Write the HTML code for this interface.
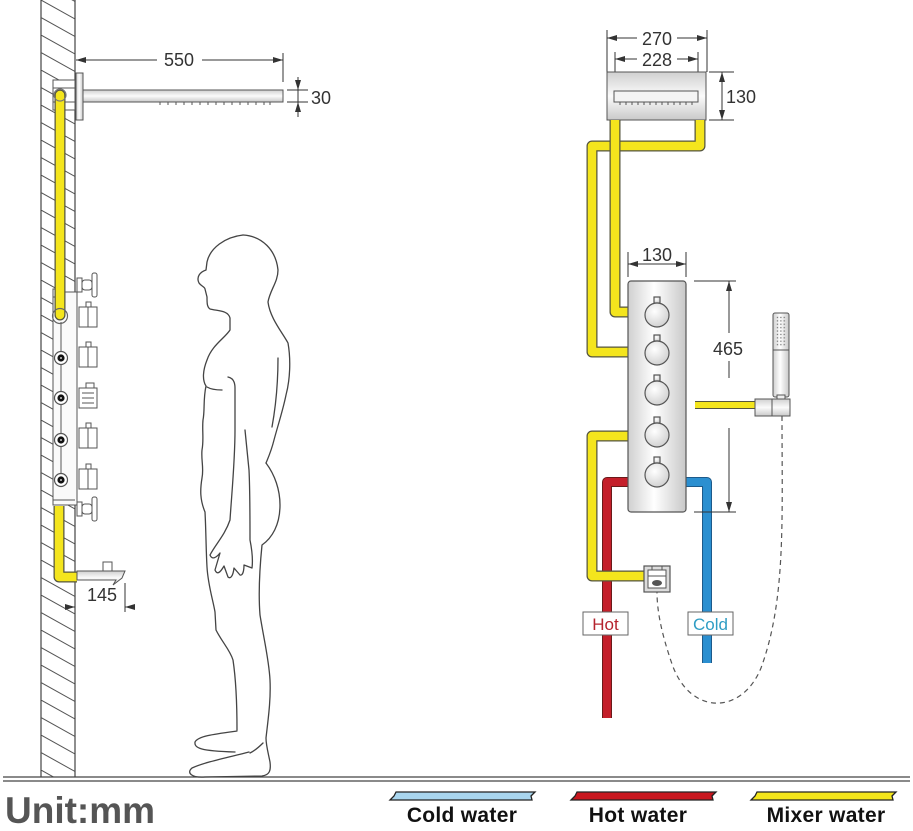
<!DOCTYPE html>
<html><head><meta charset="utf-8"><style>
html,body{margin:0;padding:0;background:#fff;}
svg{display:block;}
text{font-family:"Liberation Sans",Arial,sans-serif;}
.d{stroke:#333;stroke-width:1;fill:none;}
.po{stroke:#55553f;stroke-width:11;fill:none;stroke-linejoin:round;}
.pi{stroke:#f4e51d;stroke-width:8.5;fill:none;stroke-linejoin:round;}
.h{stroke:#444;stroke-width:1.3;fill:none;stroke-linecap:round;stroke-linejoin:round;}
.g{stroke:#555;stroke-width:1;}
</style></head><body>
<svg width="913" height="831" viewBox="0 0 913 831" xmlns="http://www.w3.org/2000/svg">
<defs>
<marker id="a" markerUnits="userSpaceOnUse" markerWidth="10" markerHeight="6" refX="10" refY="3" orient="auto-start-reverse"><path d="M0,0 L10,3 L0,6 z" fill="#333"/></marker>
<pattern id="hat" patternUnits="userSpaceOnUse" x="41" y="0" width="34" height="17.5"><path d="M0,0 L34,19 M0,-17.5 L34,1.5" stroke="#555" stroke-width="1" fill="none"/></pattern>
<linearGradient id="gh" x1="0" y1="0" x2="1" y2="0"><stop offset="0" stop-color="#cfcfcf"/><stop offset="0.45" stop-color="#ffffff"/><stop offset="1" stop-color="#c8c8c8"/></linearGradient>
<linearGradient id="gv" x1="0" y1="0" x2="0" y2="1"><stop offset="0" stop-color="#d0d0d0"/><stop offset="0.5" stop-color="#fbfbfb"/><stop offset="1" stop-color="#c9c9c9"/></linearGradient>
<radialGradient id="gk" cx="0.4" cy="0.35" r="0.7"><stop offset="0" stop-color="#ffffff"/><stop offset="1" stop-color="#cfcfcf"/></radialGradient>
<pattern id="dots" patternUnits="userSpaceOnUse" x="776" y="316" width="3.4" height="3.4"><rect x="0.8" y="0.8" width="1.3" height="1.3" fill="#777"/></pattern>
</defs>
<rect width="913" height="831" fill="#fff"/>

<!-- wall -->
<rect x="41" y="0" width="34" height="777" fill="url(#hat)"/>
<path d="M41,0 V777 M75,0 V777" stroke="#444" stroke-width="1.2"/>
<!-- ground -->
<path d="M3,777 H910 M3,781 H910" stroke="#444" stroke-width="1.2"/>

<!-- left shower arm -->
<rect x="53" y="80" width="22" height="30" fill="#fff" class="g"/>
<path d="M53,88 H75 M53,102 H75" class="g"/>
<rect x="76" y="73" width="7" height="47" fill="url(#gh)" class="g"/>
<rect x="83" y="90" width="200" height="12" fill="url(#gv)" class="g"/>
<path d="M160,102 v3 M168,102 v3 M176,102 v3 M184,102 v3 M192,102 v3 M200,102 v3 M208,102 v3 M216,102 v3 M224,102 v3 M232,102 v3 M240,102 v3 M248,102 v3 M256,102 v3 M264,102 v3 M270,102 v3" stroke="#555" stroke-width="1"/>
<!-- 550 dim -->
<path class="d" d="M157,60 H76" marker-end="url(#a)"/>
<path class="d" d="M202,60 H283" marker-end="url(#a)"/>
<path class="d" d="M283,53 V82"/>
<text x="179" y="66" font-size="18" fill="#333" text-anchor="middle">550</text>
<!-- 30 dim -->
<path class="d" d="M287,90 H308 M287,102 H308 M298,90 V102"/>
<path class="d" d="M298,77 V90" marker-end="url(#a)"/>
<path class="d" d="M298,117 V102" marker-end="url(#a)"/>
<text x="311" y="104" font-size="18" fill="#333">30</text>

<!-- left panel -->
<rect x="53" y="292" width="24" height="213" fill="#fafafa" class="g"/>
<path d="M53,500 H75 M61,322 V480" class="g"/>
<rect x="53" y="289" width="12" height="8" fill="#fff" class="g"/>

<!-- left yellow pipe top -->
<path class="po" d="M60,95 V315" stroke-linecap="round"/>
<path class="pi" d="M60,95 V315" stroke-linecap="round"/>
<circle cx="60" cy="95" r="6" fill="none" stroke="#777" stroke-width="1.2"/>
<circle cx="60" cy="316" r="7.5" fill="none" stroke="#666" stroke-width="1.2"/>

<g fill="#fff" stroke="#555" stroke-width="1.2">
<circle cx="61" cy="358" r="6.5"/><circle cx="61" cy="398" r="6.5"/><circle cx="61" cy="440" r="6.5"/><circle cx="61" cy="480" r="6.5"/>
</g>
<g fill="#111"><circle cx="61" cy="358" r="3.6"/><circle cx="61" cy="398" r="3.6"/><circle cx="61" cy="440" r="3.6"/><circle cx="61" cy="480" r="3.6"/></g>
<g fill="#fff"><circle cx="61" cy="358" r="0.9"/><circle cx="61" cy="398" r="0.9"/><circle cx="61" cy="440" r="0.9"/><circle cx="61" cy="480" r="0.9"/></g>
<!-- fixtures right of panel -->
<g fill="#fff" stroke="#555" stroke-width="1">
<rect x="77" y="278" width="5" height="14"/><rect x="82" y="280" width="10" height="10" rx="3"/><rect x="92" y="273" width="5" height="24" rx="2"/>
<rect x="79" y="307" width="18" height="20"/><rect x="86" y="302" width="5" height="5"/>
<rect x="79" y="347" width="18" height="20"/><rect x="86" y="342" width="5" height="5"/>
<rect x="79" y="388" width="18" height="20"/><rect x="86" y="383" width="8" height="5"/>
<rect x="79" y="428" width="18" height="20"/><rect x="86" y="423" width="5" height="5"/>
<rect x="79" y="469" width="18" height="20"/><rect x="86" y="464" width="5" height="5"/>
<rect x="77" y="502" width="5" height="14"/><rect x="82" y="504" width="10" height="10" rx="3"/><rect x="92" y="497" width="5" height="24" rx="2"/>
</g>
<path d="M88,307 V327 M88,347 V367 M88,428 V448 M88,469 V489 M82,393 H94 M82,398 H94 M82,403 H94" class="g"/>

<!-- lower left pipe and spout -->
<path class="po" d="M59,506 V577 H77"/>
<path class="pi" d="M59,506 V577 H77"/>
<rect x="103" y="562" width="9" height="9" fill="#fff" class="g"/>
<path d="M77,571 H125 L122,578 L113,585 L116,580 H77 Z" fill="url(#gv)" stroke="#555" stroke-width="1"/>
<!-- 145 dim -->
<path class="d" d="M125,583 V612"/>
<path class="d" d="M65,607 H75" marker-end="url(#a)"/>
<path class="d" d="M135,607 H125" marker-end="url(#a)"/>
<text x="102" y="601" font-size="18" fill="#333" text-anchor="middle">145</text>

<!-- human -->
<path class="h" d="M243,235 C225,237 210,248 207,262 L206,270 C200,272 196,277 199,283 C201,286 205,287 205,289 L207,297 C207,303 207,307 210,309 C217,311 228,310 230,318 L230,330 C225,338 212,345 207,360 C203,370 202,380 206,386 C203,400 205,410 203,420 C202,430 204,440 202,450 C201,460 204,468 202,478 C200,490 200,500 205,512 C206,530 206,550 207,567 C208,585 213,600 215,612 L216,630 C222,642 230,650 233,660 C236,680 237,700 237,730"/>
<path class="h" d="M237,731 C215,734 198,736 195,742 C194,748 200,751 235,752"/>
<path class="h" d="M249,752 C230,757 205,762 192,768 C186,773 192,778 205,777 L262,776 C270,775 271,770 270,762 C268,752 266,745 266,738 C268,720 271,700 270,680 C269,660 264,640 260,615 C258,590 260,565 262,545 C272,538 280,525 280,505 C280,490 275,475 266,463"/>
<path class="h" d="M243,235 C262,236 276,250 278,270 C278,282 270,290 268,302 C270,318 282,332 288,343 C291,360 290,380 286,395 C283,410 278,425 274,440 C271,452 268,458 266,463"/>
<path class="h" d="M278,358 C278,380 276,405 272,427"/>
<path class="h" d="M228,377 C233,378 235,382 235,388 L235,430 C235,460 232,490 230,520 C225,535 215,545 210,555 C212,560 216,558 220,553 L215,570 C217,575 220,573 224,566 L228,577 C230,579 233,577 234,568 L240,575 C243,576 244,570 244,565 L252,568 C253,560 252,550 250,540 C250,510 250,490 249,470 L245,430"/>
<path class="h" d="M207,387 C212,390 218,390 222,390 M250,753 C256,750 260,746 263,743"/>

<!-- right: top box -->
<path class="d" d="M607,30 V72 M707,30 V72 M615,52 V91 M698,52 V91"/>
<path class="d" d="M637,38 H607" marker-end="url(#a)"/>
<path class="d" d="M677,38 H707" marker-end="url(#a)"/>
<path class="d" d="M637,59 H615" marker-end="url(#a)"/>
<path class="d" d="M677,59 H698" marker-end="url(#a)"/>
<text x="657" y="45" font-size="18" fill="#333" text-anchor="middle">270</text>
<text x="657" y="66" font-size="18" fill="#333" text-anchor="middle">228</text>
<rect x="607" y="72" width="99" height="48" fill="url(#gv)" stroke="#555" stroke-width="1"/>
<rect x="614" y="91" width="84" height="11" fill="#f4f4f4" stroke="#555" stroke-width="1"/>
<path d="M620,102 v3 M626,102 v3 M632,102 v3 M638,102 v3 M644,102 v3 M650,102 v3 M656,102 v3 M662,102 v3 M668,102 v3 M674,102 v3 M680,102 v3 M686,102 v3 M692,102 v3" stroke="#555" stroke-width="1"/>
<path class="d" d="M709,72 H734 M709,120 H734"/>
<path class="d" d="M722,72 V120" marker-start="url(#a)" marker-end="url(#a)"/>
<text x="726" y="103" font-size="18" fill="#333">130</text>

<!-- hot / cold pipes -->
<path d="M628,482 H607 V718" stroke="#6a1a1a" stroke-width="10" fill="none" stroke-linejoin="round"/>
<path d="M628,482 H607 V718" stroke="#c41f2a" stroke-width="8" fill="none" stroke-linejoin="round"/>
<path d="M686,482 H707 V663" stroke="#1d5a8a" stroke-width="10" fill="none" stroke-linejoin="round"/>
<path d="M686,482 H707 V663" stroke="#2b8fd0" stroke-width="8" fill="none" stroke-linejoin="round"/>

<!-- yellow pipes right -->
<path class="po" d="M700,120 V146 H592 V352 H628"/>
<path class="pi" d="M700,120 V146 H592 V352 H628"/>
<path class="po" d="M615,120 V312 H628"/>
<path class="pi" d="M615,120 V312 H628"/>
<path class="po" d="M628,436 H592 V576 H644"/>
<path class="pi" d="M628,436 H592 V576 H644"/>
<path d="M695,405 H756" stroke="#55553f" stroke-width="8" fill="none"/>
<path d="M695,405 H756" stroke="#f4e51d" stroke-width="6" fill="none"/>

<!-- panel -->
<rect x="628" y="281" width="58" height="231" rx="3" fill="url(#gh)" stroke="#555" stroke-width="1.2"/>
<g fill="url(#gk)" stroke="#555" stroke-width="1.2">
<rect x="654" y="297" width="6" height="6"/><circle cx="657" cy="315" r="12"/>
<rect x="654" y="335" width="6" height="6"/><circle cx="657" cy="353" r="12"/>
<rect x="654" y="375" width="6" height="6"/><circle cx="657" cy="393" r="12"/>
<rect x="654" y="417" width="6" height="6"/><circle cx="657" cy="435" r="12"/>
<rect x="654" y="457" width="6" height="6"/><circle cx="657" cy="475" r="12"/>
</g>
<!-- 130 panel dim -->
<path class="d" d="M628,252 V277 M686,252 V277"/>
<path class="d" d="M628,264 H686" marker-start="url(#a)" marker-end="url(#a)"/>
<text x="657" y="261" font-size="18" fill="#333" text-anchor="middle">130</text>
<!-- 465 dim -->
<path class="d" d="M694,281 H736 M694,512 H736 M729,361 V378"/>
<path class="d" d="M729,333 V281" marker-end="url(#a)"/>
<path class="d" d="M729,428 V512" marker-end="url(#a)"/>
<text x="728" y="355" font-size="18" fill="#333" text-anchor="middle">465</text>

<!-- hand shower -->
<rect x="773" y="313" width="16" height="84" rx="2" fill="url(#gh)" stroke="#555" stroke-width="1"/>
<rect x="776" y="316" width="10" height="31" fill="url(#dots)"/>
<path d="M773,350 H789" class="g"/>
<rect x="777" y="395" width="8" height="5" fill="#eee" class="g"/>
<rect x="755" y="399" width="17" height="17" fill="url(#gv)" class="g"/>
<rect x="772" y="399" width="18" height="17" fill="url(#gv)" class="g"/>
<path d="M782,416 C782,520 786,600 761,668 C742,715 690,716 672,664 C661,632 657,610 657,592" stroke="#555" stroke-width="1.2" fill="none" stroke-dasharray="5,4"/>

<!-- diverter -->
<rect x="644" y="566" width="26" height="26" fill="#dcdcdc" stroke="#555" stroke-width="1.2"/>
<rect x="648" y="570" width="18" height="18" fill="#fff" stroke="#555" stroke-width="1"/>
<path d="M648,576 H666 M652,570 V566 M662,570 V566" class="g"/>
<ellipse cx="657" cy="583" rx="5" ry="3" fill="#555"/>

<!-- labels -->
<rect x="583" y="612" width="45" height="23" fill="#fff" stroke="#666" stroke-width="1"/>
<text x="605.5" y="630" font-size="17" fill="#b5232e" text-anchor="middle">Hot</text>
<rect x="688" y="612" width="45" height="23" fill="#fff" stroke="#666" stroke-width="1"/>
<text x="710.5" y="630" font-size="17" fill="#2f9dc4" text-anchor="middle">Cold</text>

<!-- legend -->
<text x="5" y="823" font-size="37" font-weight="bold" fill="#555">Unit:mm</text>
<path d="M396,792 H535 L531,796 L532,800 H390 L394,796 Z" fill="#a9d6ef" stroke="#222" stroke-width="1.3"/>
<path d="M577,792 H716 L712,796 L713,800 H571 L575,796 Z" fill="#c8161e" stroke="#222" stroke-width="1.3"/>
<path d="M757,792 H896 L892,796 L893,800 H751 L755,796 Z" fill="#f4e61b" stroke="#222" stroke-width="1.3"/>
<text x="462" y="822" font-size="21" font-weight="bold" fill="#111" text-anchor="middle" letter-spacing="0.3">Cold water</text>
<text x="638" y="822" font-size="21" font-weight="bold" fill="#111" text-anchor="middle" letter-spacing="0.3">Hot water</text>
<text x="826" y="822" font-size="21" font-weight="bold" fill="#111" text-anchor="middle" letter-spacing="0.3">Mixer water</text>
</svg>
</body></html>
